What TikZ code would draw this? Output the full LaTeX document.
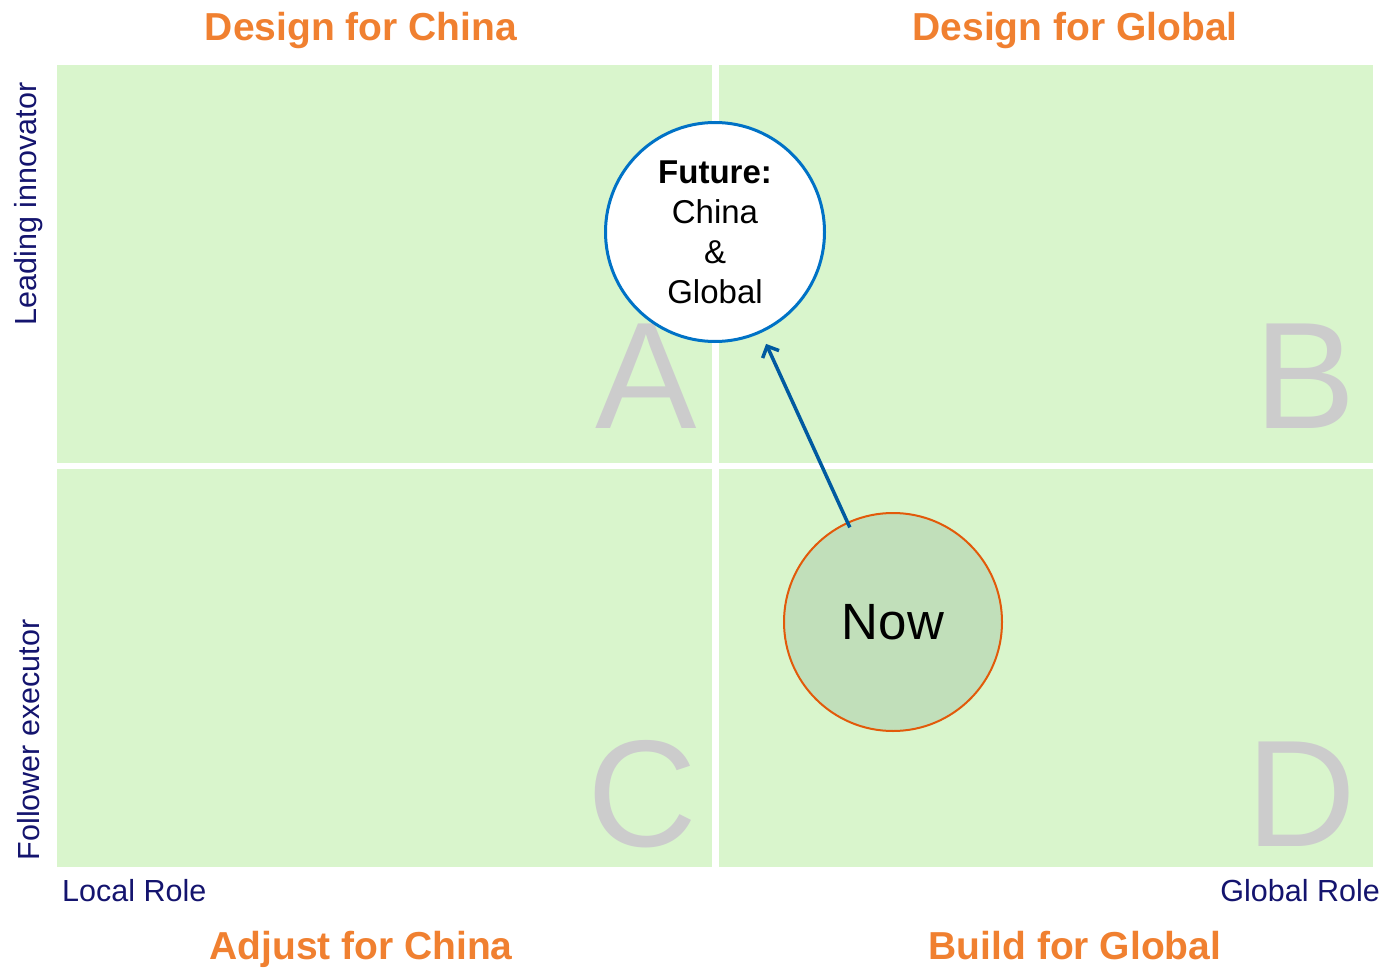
\documentclass[tikz,border=0pt]{standalone}
\usepackage{fontspec}
\setmainfont{Liberation Sans}
\usepackage{tikz}
\usetikzlibrary{arrows.meta}

\definecolor{quadgreen}{RGB}{217,245,204}
\definecolor{nowgreen}{RGB}{193,223,186}
\definecolor{titleorange}{RGB}{240,128,48}
\definecolor{nowborder}{RGB}{226,90,10}
\definecolor{futureblue}{RGB}{0,114,198}
\definecolor{arrowblue}{RGB}{0,90,160}
\definecolor{rolenavy}{RGB}{20,20,110}
\definecolor{lettergray}{RGB}{204,204,204}

\begin{document}
\begin{tikzpicture}[x=1pt,y=-1pt,
  title/.style={text=titleorange, font=\fontsize{39}{47}\selectfont\bfseries, anchor=base, inner sep=0pt},
  role/.style={text=rolenavy, font=\fontsize{30.5}{36}\selectfont},
  letter/.style={text=lettergray, font=\fontsize{152}{180}\selectfont, anchor=base east, inner sep=0pt}]
\useasboundingbox (0,0) rectangle (1386,968);

% quadrants
\fill[quadgreen] (57,65) rectangle (712,463);
\fill[quadgreen] (719,65) rectangle (1373,463);
\fill[quadgreen] (57,469) rectangle (712,867);
\fill[quadgreen] (719,469) rectangle (1373,867);

\node[letter] (la) at (697,428) {A};
\node[letter] (lb) at (1356,428) {B};
\node[letter] (lc) at (697,846) {C};
\node[letter] (ld) at (1356,846) {D};

% titles
\node[title] (t1) at (361,41) {Design for China};
\node[title] (t2) at (1075,41) {Design for Global};
\node[title] (t3) at (361,959) {Adjust for China};
\node[title] (t4) at (1075,959) {Build for Global};

% axis labels
\node[role, anchor=base west, inner sep=0pt] (local) at (62,901) {Local Role};
\node[role, anchor=base east, inner sep=0pt] (global) at (1380,901) {Global Role};
\node[role, rotate=90] (lead) at (29,204) {Leading innovator};
\node[role, rotate=90] (follow) at (29,740) {Follower executor};

% circles
\node[circle, draw=futureblue, line width=3pt, fill=white, minimum size=219pt, inner sep=0pt,
  align=center, font=\fontsize{33}{40}\selectfont] (future) at (715,232)
  {\textbf{Future:}\\China\\\&\\Global};
\node[circle, draw=nowborder, line width=2pt, fill=nowgreen, minimum size=218pt, inner sep=0pt,
  font=\fontsize{51}{60}\selectfont] (now) at (893,622) {Now};

\draw[-{Straight Barb[length=9pt,width=18pt]}, arrowblue, line width=3.5pt,
  shorten <=-6pt, shorten >=12pt] (now) -- (future);
\end{tikzpicture}
\end{document}
